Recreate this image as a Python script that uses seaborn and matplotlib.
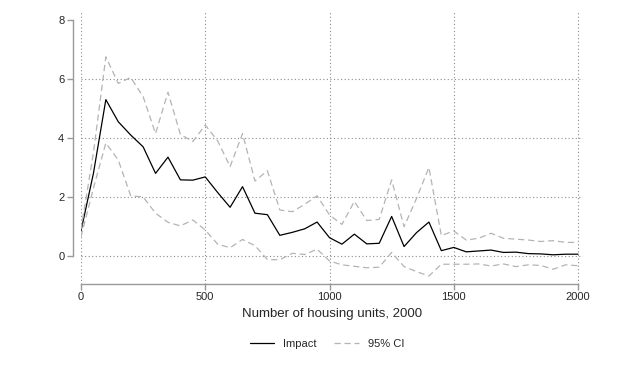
import seaborn as sns
import matplotlib.pyplot as plt
import pandas as pd

# Valores (cada 50 viviendas)
housing_units = list(range(0, 2001, 50))

impact = [0.85, 2.8, 5.3, 4.55, 4.1, 3.7, 2.8, 3.35, 2.58, 2.57,
          2.68, 2.15, 1.65, 2.35, 1.45, 1.4, 0.7, 0.8, 0.92, 1.15,
          0.62, 0.4, 0.74, 0.41, 0.43, 1.34, 0.32, 0.79, 1.15, 0.18,
          0.29, 0.14, 0.17, 0.2, 0.12, 0.13, 0.08, 0.07, 0.04, 0.06, 0.06]

ci_upper = [0.9, 3.5, 6.75, 5.85, 6.05, 5.4, 4.15, 5.55, 4.12, 3.88,
            4.44, 3.9, 3.03, 4.15, 2.54, 2.89, 1.56, 1.5, 1.75, 2.04,
            1.39, 1.07, 1.85, 1.2, 1.24, 2.58, 0.99, 1.95, 3.0, 0.69,
            0.85, 0.54, 0.6, 0.77, 0.6, 0.57, 0.54, 0.49, 0.52, 0.46, 0.46]

ci_lower = [0.65, 2.3, 3.83, 3.25, 2.04, 2.0, 1.45, 1.14, 1.02, 1.22,
            0.88, 0.4, 0.28, 0.56, 0.35, -0.12, -0.13, 0.09, 0.05, 0.23,
            -0.17, -0.3, -0.35, -0.4, -0.38, 0.12, -0.36, -0.53, -0.68, -0.28,
            -0.28, -0.28, -0.27, -0.34, -0.27, -0.36, -0.3, -0.32, -0.45, -0.3, -0.33]

x_ticks = [0, 500, 1000, 1500, 2000]
y_ticks = [0, 2, 4, 6, 8]

# Formato largo para seaborn
frames = []
for name, kind, vals in [("impact", "Impact", impact),
                         ("upper", "95% CI", ci_upper),
                         ("lower", "95% CI", ci_lower)]:
    frames.append(pd.DataFrame({"x": housing_units, "y": vals, "serie": name, "tipo": kind}))
df = pd.concat(frames, ignore_index=True)

sns.set_style("white")
plt.rcParams['font.family'] = ['Liberation Sans', 'DejaVu Sans']

fig = plt.figure(figsize=(6.36, 3.68), dpi=100)
ax = fig.add_axes([81 / 636, 1 - 284 / 368, 502 / 636, 272 / 368])

grid_style = dict(linestyle=(0, (1, 2.2)), color="#8c8c8c", linewidth=0.8, zorder=0)
# Rejilla punteada (sin linea en el 8, como el original)
for xv in x_ticks:
    ax.axvline(xv, **grid_style)
for yv in y_ticks[:-1]:
    ax.axhline(yv, **grid_style)

sns.lineplot(data=df, x="x", y="y", hue="tipo", style="tipo", units="serie",
             estimator=None, palette={"Impact": "black", "95% CI": "#b4b4b4"},
             dashes={"Impact": "", "95% CI": (5, 3)}, linewidth=0.9, ax=ax)

ax.set_xlim(0, 2020)
ax.set_ylim(-0.95, 8.27)
ax.set_xticks(x_ticks)
ax.set_yticks(y_ticks)
ax.grid(False)

# Ejes estilo Stata
for side in ["top", "right"]:
    ax.spines[side].set_visible(False)
ax.spines["left"].set_position(("outward", 6))
ax.spines["left"].set_bounds(0, 8)
ax.spines["bottom"].set_bounds(0, 2000)
for side in ["left", "bottom"]:
    ax.spines[side].set_color("#999999")
    ax.spines[side].set_linewidth(1.0)
ax.tick_params(axis="both", which="major", length=4, width=1.0, color="#999999",
               labelsize=8, pad=2, left=True, bottom=True)

ax.set_xlabel("Number of housing units, 2000", fontsize=9.5, labelpad=4)
ax.set_ylabel("")

handles, labels = ax.get_legend_handles_labels()
ax.legend(handles=handles, labels=labels, loc="upper center",
          bbox_to_anchor=(0.49, -0.165), ncol=2, frameon=False, fontsize=8,
          handlelength=2.2, columnspacing=1.6, handletextpad=0.8)

plt.savefig("out.png", dpi=100)
